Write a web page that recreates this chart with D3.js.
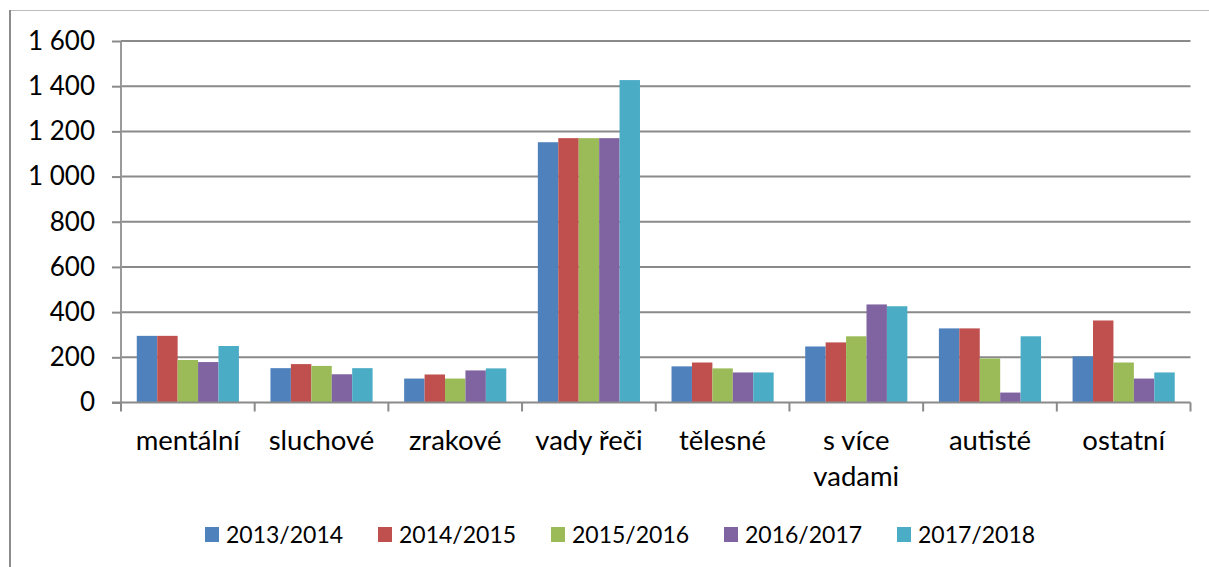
<!DOCTYPE html>
<html>
<head>
<meta charset="utf-8">
<script src="https://cdn.jsdelivr.net/npm/d3@7"></script>
<style>
  html, body { margin: 0; padding: 0; background: #fff; }
  svg { display: block; font-family: Lato, "Liberation Sans", sans-serif; }
</style>
</head>
<body>
<svg id="chart"></svg>
<script>
const width = 1209;
const height = 567;
const margin = { top: 41, right: 18.5, bottom: 164.5, left: 121 };

// categories and series
const categories = ["mentální", "sluchové", "zrakové", "vady řeči", "tělesné", "s více vadami", "autisté", "ostatní"];
const years = ["2013/2014", "2014/2015", "2015/2016", "2016/2017", "2017/2018"];
const colors = ["#4F81BD", "#C0504D", "#9BBB59", "#8064A2", "#4BACC6"];

const v2013 = [295, 152, 106, 1152, 160, 248, 328, 204];
const v2014 = [295, 170, 124, 1170, 177, 266, 328, 363];
const v2015 = [188, 162, 106, 1170, 151, 293, 195, 177];
const v2016 = [179, 125, 142, 1170, 133, 434, 44, 106];
const v2017 = [250, 152, 151, 1427, 133, 426, 293, 133];
const seriesValues = [v2013, v2014, v2015, v2016, v2017];

const yTicks = [0, 200, 400, 600, 800, 1000, 1200, 1400, 1600];

const svg = d3.select("#chart")
  .attr("width", width)
  .attr("height", height)
  .attr("viewBox", [0, 0, width, height]);

// outer frame (top + left edges only visible)
svg.append("line")
  .attr("x1", 9).attr("x2", width).attr("y1", 10.5).attr("y2", 10.5)
  .attr("stroke", "#bdbdbd").attr("stroke-width", 1.2);
svg.append("line")
  .attr("x1", 10).attr("x2", 10).attr("y1", 10).attr("y2", height)
  .attr("stroke", "#8c8c8c").attr("stroke-width", 2);

const x0 = d3.scaleBand()
  .domain(categories)
  .range([margin.left, width - margin.right])
  .paddingInner(0.236)
  .paddingOuter(0.118);

const x1 = d3.scaleBand()
  .domain(years)
  .range([0, x0.bandwidth()]);

const y = d3.scaleLinear()
  .domain([0, 1600])
  .range([height - margin.bottom, margin.top]);

const fmt = v => d3.format(",")(v).replace(/,/g, " ");

// gridlines
svg.append("g")
  .selectAll("line")
  .data(yTicks.filter(d => d > 0))
  .join("line")
  .attr("x1", margin.left)
  .attr("x2", width - margin.right)
  .attr("y1", d => y(d))
  .attr("y2", d => y(d))
  .attr("stroke", "#8a8a8a")
  .attr("stroke-width", 2);

// bars
const groups = svg.append("g")
  .selectAll("g")
  .data(categories)
  .join("g")
  .attr("transform", c => `translate(${x0(c)},0)`);

groups.selectAll("rect")
  .data((c, i) => years.map((yr, j) => ({ yr, j, value: seriesValues[j][i] })))
  .join("rect")
  .attr("x", d => x1(d.yr))
  .attr("width", x1.bandwidth())
  .attr("y", d => y(d.value))
  .attr("height", d => y(0) - y(d.value))
  .attr("fill", d => colors[d.j]);

// y axis
const yAxis = svg.append("g")
  .attr("transform", `translate(${margin.left},0)`)
  .call(d3.axisLeft(y).tickValues(yTicks).tickFormat(fmt).tickSize(9).tickPadding(17));
yAxis.select(".domain").attr("stroke", "#9a9a9a").attr("stroke-width", 2)
  .attr("d", `M0,${y(1600)}V${y(0)}`);
yAxis.selectAll(".tick line").attr("stroke", "#8a8a8a").attr("stroke-width", 2);
yAxis.selectAll(".tick text")
  .attr("fill", "#000")
  .style("font-family", "Lato, 'Liberation Sans', sans-serif")
  .style("font-size", "26px");

// x axis
const xBase = y(0);
const xAxis = svg.append("g");
xAxis.append("line")
  .attr("x1", margin.left - 9).attr("x2", width - margin.right)
  .attr("y1", xBase).attr("y2", xBase)
  .attr("stroke", "#8a8a8a").attr("stroke-width", 2);
const step = x0.step();
const boundaries = d3.range(categories.length + 1).map(i => margin.left + i * step);
xAxis.selectAll("line.tick")
  .data(boundaries)
  .join("line")
  .attr("class", "tick")
  .attr("x1", d => d).attr("x2", d => d)
  .attr("y1", xBase).attr("y2", xBase + 9)
  .attr("stroke", "#8a8a8a").attr("stroke-width", 2);

// category labels, wrapped to band width
const labels = xAxis.selectAll("text.cat")
  .data(categories)
  .join("text")
  .attr("class", "cat")
  .attr("text-anchor", "middle")
  .attr("fill", "#000")
  .style("font-size", "27.5px")
  .attr("x", c => x0(c) + x0.bandwidth() / 2)
  .attr("y", 450);

labels.each(function(c) {
  const t = d3.select(this);
  t.text(c);
  if (this.getComputedTextLength() > step - 4) {
    const words = c.split(" ");
    const first = words.slice(0, 2).join(" ");
    const rest = words.slice(2).join(" ");
    t.text(null);
    t.append("tspan").attr("x", t.attr("x")).attr("dy", 0).text(first);
    t.append("tspan").attr("x", t.attr("x")).attr("dy", 36).text(rest);
  }
});

// legend
const legendX = [205, 378, 551, 724, 897];
const legend = svg.append("g")
  .selectAll("g")
  .data(years)
  .join("g")
  .attr("transform", (d, i) => `translate(${legendX[i]},527)`);

legend.append("rect")
  .attr("width", 14).attr("height", 15)
  .attr("fill", (d, i) => colors[i]);

legend.append("text")
  .attr("x", 21)
  .attr("y", 16)
  .attr("fill", "#000")
  .style("font-size", "23px")
  .text(d => d);
</script>
</body>
</html>
